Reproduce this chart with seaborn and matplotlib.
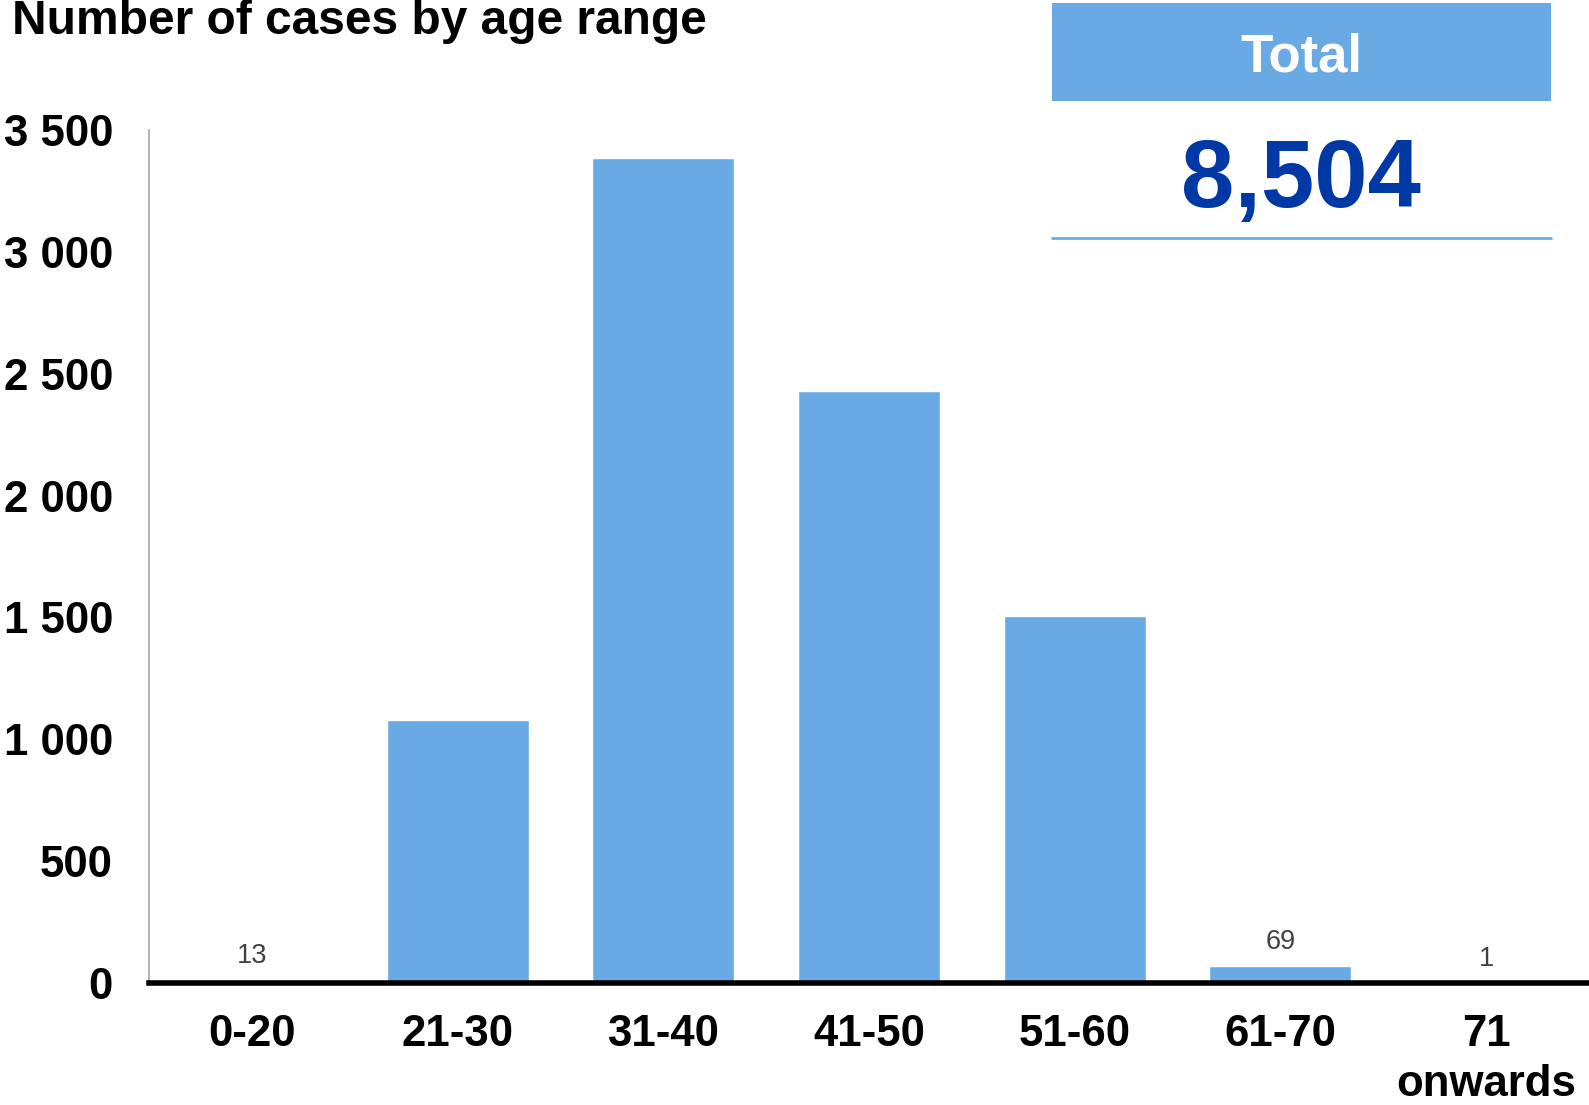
import matplotlib
matplotlib.use("Agg")
import matplotlib.pyplot as plt
import seaborn as sns
import pandas as pd
from matplotlib.patches import Rectangle
from matplotlib.lines import Line2D
from matplotlib.ticker import FuncFormatter

# ---- data ----
categories = ["0-20", "21-30", "31-40", "41-50", "51-60", "61-70", "71\nonwards"]
cases = [13, 1080, 3385, 2430, 1505, 69, 1]
total_label = "8,504"
title = "Number of cases by age range"
y_ticks = [0, 500, 1000, 1500, 2000, 2500, 3000, 3500]

BAR = "#6AAAE4"
NAVY = "#0039A6"

sns.set_theme(style="white")
plt.rcParams["font.family"] = ["Liberation Sans", "DejaVu Sans"]

W, H = 1589, 1105
fig = plt.figure(figsize=(W / 100, H / 100), dpi=100)
ax = fig.add_axes([149 / W, 1 - 983 / H, (W - 149) / W, (983 - 130) / H])

df = pd.DataFrame({"age": categories, "cases": cases})
sns.barplot(data=df, x="age", y="cases", color=BAR, saturation=1, width=0.69, ax=ax)

ax.set_xlim(-0.5, 6.5)
ax.set_ylim(0, 3500)
ax.set_yticks(y_ticks)
ax.yaxis.set_major_formatter(FuncFormatter(lambda v, p: f"{int(v):,}".replace(",", " ")))
ax.set_xlabel("")
ax.set_ylabel("")

for lab in ax.get_yticklabels():
    lab.set_fontsize(31.5)
    lab.set_fontweight("bold")
    lab.set_color("black")
for lab in ax.get_xticklabels():
    lab.set_fontsize(31.5)
    lab.set_fontweight("bold")
    lab.set_color("black")
    lab.set_linespacing(1.3)
ax.tick_params(axis="y", length=0, pad=26)
ax.tick_params(axis="x", length=0, pad=22)

for s in ["top", "right"]:
    ax.spines[s].set_visible(False)
ax.spines["left"].set_color("#A6A6A6")
ax.spines["left"].set_linewidth(1.2)
ax.spines["bottom"].set_color("black")
ax.spines["bottom"].set_linewidth(4)
ax.spines["bottom"].set_zorder(5)

# data labels for the small bars
for i, v in enumerate(cases):
    if v < 500:
        ax.annotate(str(v), (i, v), xytext=(0, 8), textcoords="offset points",
                    ha="center", va="bottom", fontsize=19.5, color="#404040")

# title
fig.text(12 / W, 1 - 34 / H, title, fontsize=34.5, fontweight="bold",
         ha="left", va="baseline", color="black")

# total box
fig.patches.append(Rectangle((1052 / W, 1 - 101 / H), (1551 - 1052) / W, 98 / H,
                             transform=fig.transFigure, facecolor=BAR, edgecolor="none"))
fig.text(1301 / W, 1 - 57 / H, "Total", fontsize=38, fontweight="bold",
         color="white", ha="center", va="center")
fig.text(1301 / W, 1 - 182 / H, total_label, fontsize=69, fontweight="bold",
         color=NAVY, ha="center", va="center")
fig.lines.append(Line2D([1052 / W, 1551 / W], [1 - 238 / H, 1 - 238 / H],
                        transform=fig.transFigure, color=BAR, linewidth=2))

fig.savefig("out.png", dpi=100, facecolor="white")
